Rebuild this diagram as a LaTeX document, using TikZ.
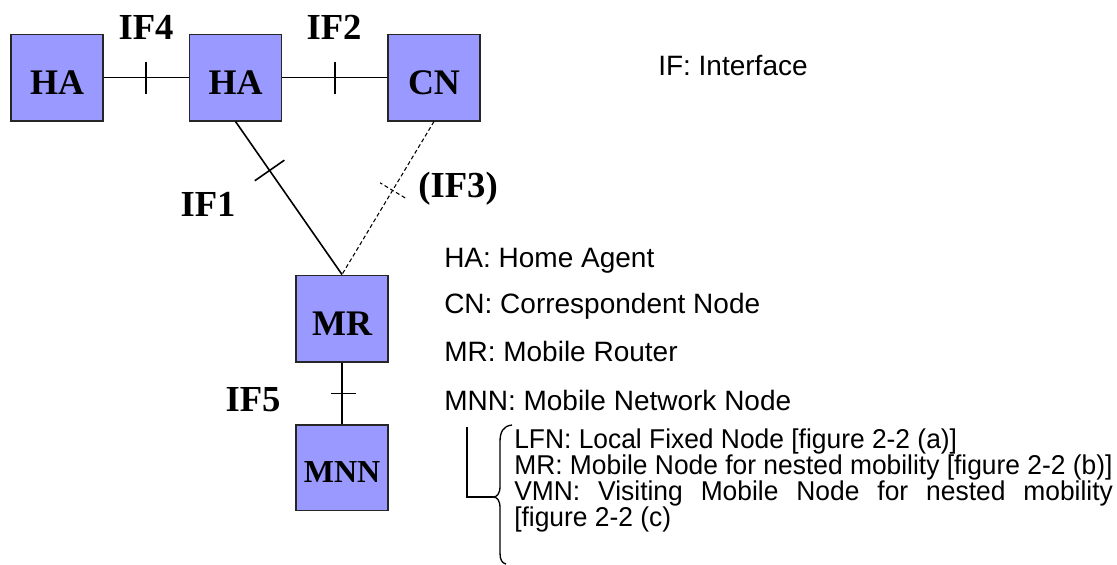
\documentclass[tikz,border=0pt]{standalone}
\usepackage{fontspec}
\setmainfont{Liberation Sans}
\newfontfamily\labelfont{Liberation Serif}
\newfontfamily\subfont[FakeStretch=0.97]{Liberation Sans}
\usetikzlibrary{calc}

\definecolor{boxblue}{HTML}{9999FF}

\tikzset{
  nodebox/.style={draw=black!85, line width=1pt, fill=boxblue, minimum width=69pt, minimum height=65pt,
    inner sep=0pt, font=\labelfont\bfseries\fontsize{27}{27}\selectfont, text height=25pt, text depth=0pt},
  iflabel/.style={font=\labelfont\bfseries\fontsize{27.5}{28}\selectfont, inner sep=0pt},
  legend/.style={anchor=base west, inner sep=0pt, font=\fontsize{21}{24}\selectfont},
  sublegend/.style={anchor=base west, inner sep=0pt, font=\subfont\fontsize{20.4}{22}\selectfont},
  link/.style={line width=1.2pt},
  backlink/.style={line width=0.8pt, dash pattern=on 3pt off 2pt},
}

\begin{document}
\begin{tikzpicture}[x=0.75pt,y=-0.75pt]
  \useasboundingbox (0,0) rectangle (1117,564);

  % boxes
  \node[nodebox] (ha1) at (57,77.5) {HA};
  \node[nodebox] (ha2) at (235.5,77.5) {HA};
  \node[nodebox] (cn) at (434,77.5) {CN};
  \node[nodebox] (mr) at (342,318.5) {MR};
  \node[nodebox, minimum height=64pt, font=\labelfont\bfseries\fontsize{24}{24}\selectfont, text height=23pt] (mnn) at (342,467.5) {MNN};

  % links with interface ticks
  \draw[link] (ha1.east) -- coordinate[pos=0.5] (t4) (ha2.west);
  \draw[link] ($(t4)+(0,-16)$) -- ($(t4)+(0,16)$);
  \draw[link] (ha2.east) -- coordinate[pos=0.5] (t2) (cn.west);
  \draw[link] ($(t2)+(0,-16)$) -- ($(t2)+(0,16)$);
  \draw[link] (ha2.south) -- coordinate[pos=0.32] (t1) (mr.north);
  \draw[link] ($(t1)!13.5pt!90:(mr.north)$) -- ($(t1)!13.5pt!-90:(mr.north)$);
  \draw[backlink] (cn.south) -- coordinate[pos=0.45] (t3) (mr.north);
  \draw[backlink] ($(t3)!11pt!90:(mr.north)$) -- ($(t3)!11pt!-90:(mr.north)$);
  \draw[link] (mr.south) -- coordinate[pos=0.5] (t5) (mnn.north);
  \draw[link] ($(t5)+(-11,0)$) -- ($(t5)+(14,0)$);

  % interface labels
  \node[iflabel] (if4) at (146,27) {IF4};
  \node[iflabel] (if2) at (334,27) {IF2};
  \node[iflabel] (if1) at (208,204) {IF1};
  \node[iflabel] (if3) at (458,189) {(IF3)};
  \node[iflabel] (if5) at (253,400) {IF5};

  % legend
  \node[legend] (lgif) at (658,75) {IF: Interface};
  \node[legend] (lgha) at (444,267) {HA: Home Agent};
  \node[legend] (lgcn) at (444,313) {CN: Correspondent Node};
  \node[legend] (lgmr) at (444,361) {MR: Mobile Router};
  \node[legend] (lgmnn) at (444,410) {MNN: Mobile Network Node};

  \node[sublegend] (lglfn) at (514,448) {LFN: Local Fixed Node [figure 2-2 (a)]};
  \node[sublegend] (lgnest) at (514,474) {MR: Mobile Node for nested mobility [figure 2-2 (b)]};
  \node[sublegend] (lgvmn) at (514,500) {\makebox[449pt][s]{VMN: Visiting Mobile Node for nested mobility}};
  \node[sublegend] (lgvmnb) at (514,526) {[figure 2-2 (c)};

  % bracket
  \draw[line width=1pt] (467,427) -- (467,497) -- (493,497);
  \draw[line width=1pt] (512,425) .. controls (503,426) and (500,432) .. (500,442)
    -- (500,486) .. controls (500,494) and (497,497) .. (493,497)
    .. controls (497,497) and (500,500) .. (500,508)
    -- (500,553) .. controls (500,560) and (502,563) .. (506,564);
\end{tikzpicture}
\end{document}
